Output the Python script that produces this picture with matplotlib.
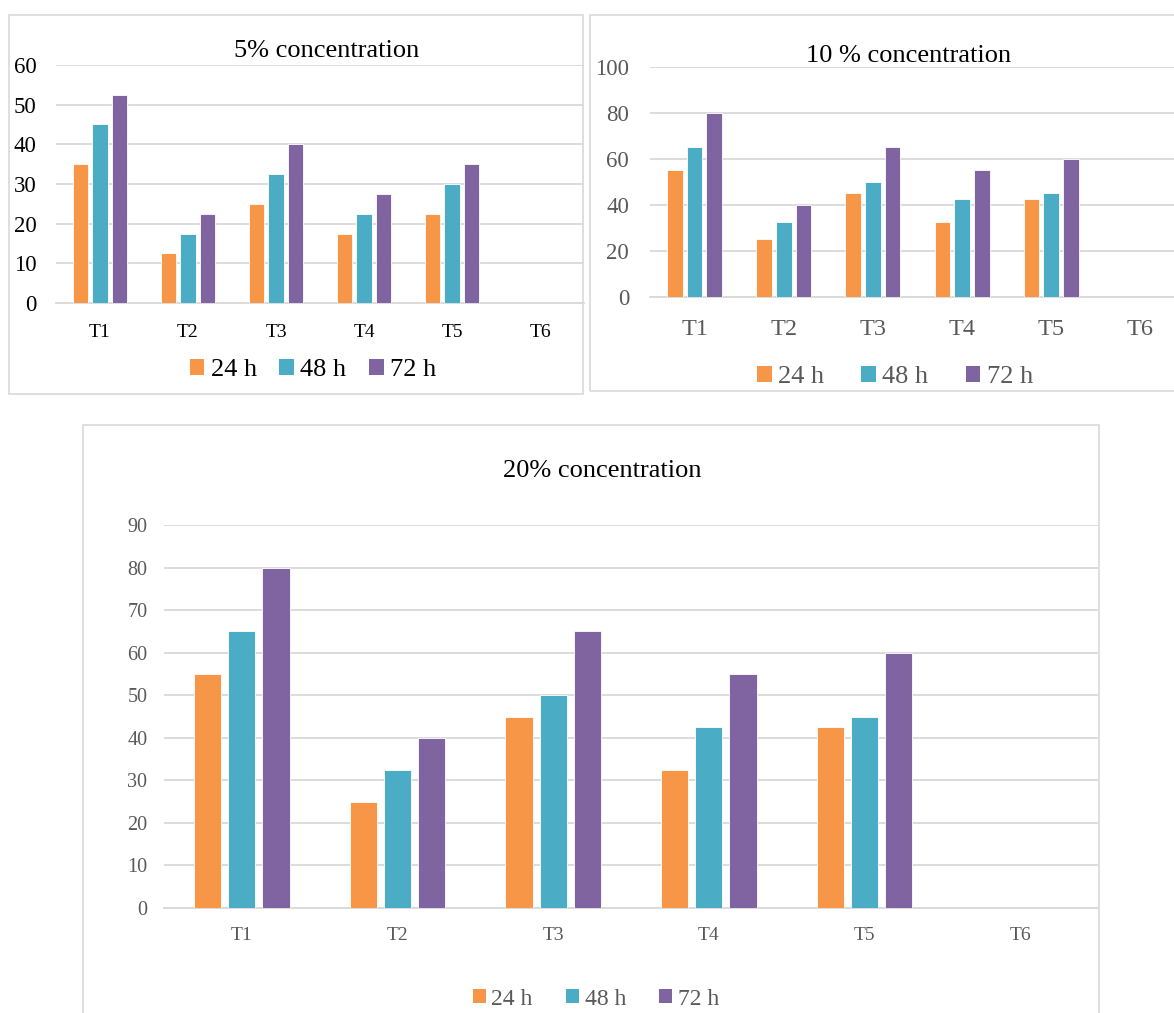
import matplotlib
matplotlib.use("Agg")
import matplotlib.pyplot as plt
import numpy as np
from matplotlib.patches import Rectangle, Patch

plt.rcParams['font.family'] = ['Liberation Serif', 'DejaVu Serif']

W, H = 1174, 1013

categories = ["T1", "T2", "T3", "T4", "T5", "T6"]
series_names = ["24 h", "48 h", "72 h"]
colors = ["#F79646", "#4BACC6", "#8064A2"]

conc5_24h = [35, 12.5, 25, 17.5, 22.5, 0]
conc5_48h = [45, 17.5, 32.5, 22.5, 30, 0]
conc5_72h = [52.5, 22.5, 40, 27.5, 35, 0]

conc10_24h = [55, 25, 45, 32.5, 42.5, 0]
conc10_48h = [65, 32.5, 50, 42.5, 45, 0]
conc10_72h = [80, 40, 65, 55, 60, 0]

conc20_24h = [55, 25, 45, 32.5, 42.5, 0]
conc20_48h = [65, 32.5, 50, 42.5, 45, 0]
conc20_72h = [80, 40, 65, 55, 60, 0]

fig = plt.figure(figsize=(W / 100, H / 100), dpi=100)
fig.patch.set_facecolor("white")


def frame(x0, y0, x1, y1):
    fig.patches.append(Rectangle((x0 / W, 1 - y1 / H), (x1 - x0) / W, (y1 - y0) / H,
                                 transform=fig.transFigure, fill=False,
                                 edgecolor="#D9D9D9", lw=1.2))


def panel(left, right, top, bottom, ymax, ystep, data, title, title_xy,
          legend_xy, ytick_fs, xtick_fs, title_fs, legend_fs, ypad, xpad,
          tick_color, legend_color, col_spacing):
    ax = fig.add_axes([left / W, 1 - bottom / H, (right - left) / W, (bottom - top) / H])
    x = np.arange(len(categories))
    width = 0.175
    step = 0.22
    for i, (vals, c) in enumerate(zip(data, colors)):
        ax.bar(x + (i - 1) * step, vals, width, color=c, edgecolor="white",
               linewidth=0.6, zorder=3)
    ax.set_xlim(-0.5, len(categories) - 0.5)
    ax.set_ylim(0, ymax)
    ax.set_yticks(np.arange(0, ymax + 0.1, ystep))
    ax.set_xticks(x)
    ax.set_xticklabels(categories)
    ax.grid(axis="y", color="#D9D9D9", lw=1.3, zorder=0)
    for s in ["top", "right", "left"]:
        ax.spines[s].set_visible(False)
    ax.spines["bottom"].set_color("#D9D9D9")
    ax.spines["bottom"].set_linewidth(1.3)
    ax.tick_params(axis="both", length=0)
    ax.tick_params(axis="y", labelsize=ytick_fs, pad=ypad, colors=tick_color)
    ax.tick_params(axis="x", labelsize=xtick_fs, pad=xpad, colors=tick_color)
    ax.set_facecolor("none")
    fig.text(title_xy[0] / W, 1 - title_xy[1] / H, title, fontsize=title_fs,
             ha="center", va="center", color="black")
    handles = [Patch(facecolor=c, edgecolor="none", label=n)
               for c, n in zip(colors, series_names)]
    fig.legend(handles=handles, loc="center",
               bbox_to_anchor=(legend_xy[0] / W, 1 - legend_xy[1] / H),
               ncol=3, frameon=False, fontsize=legend_fs, handlelength=0.55,
               handleheight=0.55, handletextpad=0.25, columnspacing=col_spacing,
               labelcolor=legend_color, borderpad=0, borderaxespad=0)
    return ax


frame(9, 15, 583, 394)
frame(590, 15, 1180, 391)
frame(83, 425, 1099, 1020)

panel(56, 584, 65, 303, 60, 10, [conc5_24h, conc5_48h, conc5_72h],
      "5% concentration", (327, 51), (313, 370), 16.5, 14, 19, 19, 14, 15,
      "black", "black", 0.85)
panel(650, 1185, 67, 297, 100, 20, [conc10_24h, conc10_48h, conc10_72h],
      "10 % concentration", (909, 56), (895, 377), 16.5, 17.5, 19, 19, 15, 16,
      "#595959", "#595959", 1.4)
panel(164, 1098, 525, 908, 90, 10, [conc20_24h, conc20_48h, conc20_72h],
      "20% concentration", (602, 471), (596, 999), 14.5, 14, 19, 17, 12, 14,
      "#595959", "#595959", 1.4)

fig.savefig("out.png", dpi=100, facecolor="white")
